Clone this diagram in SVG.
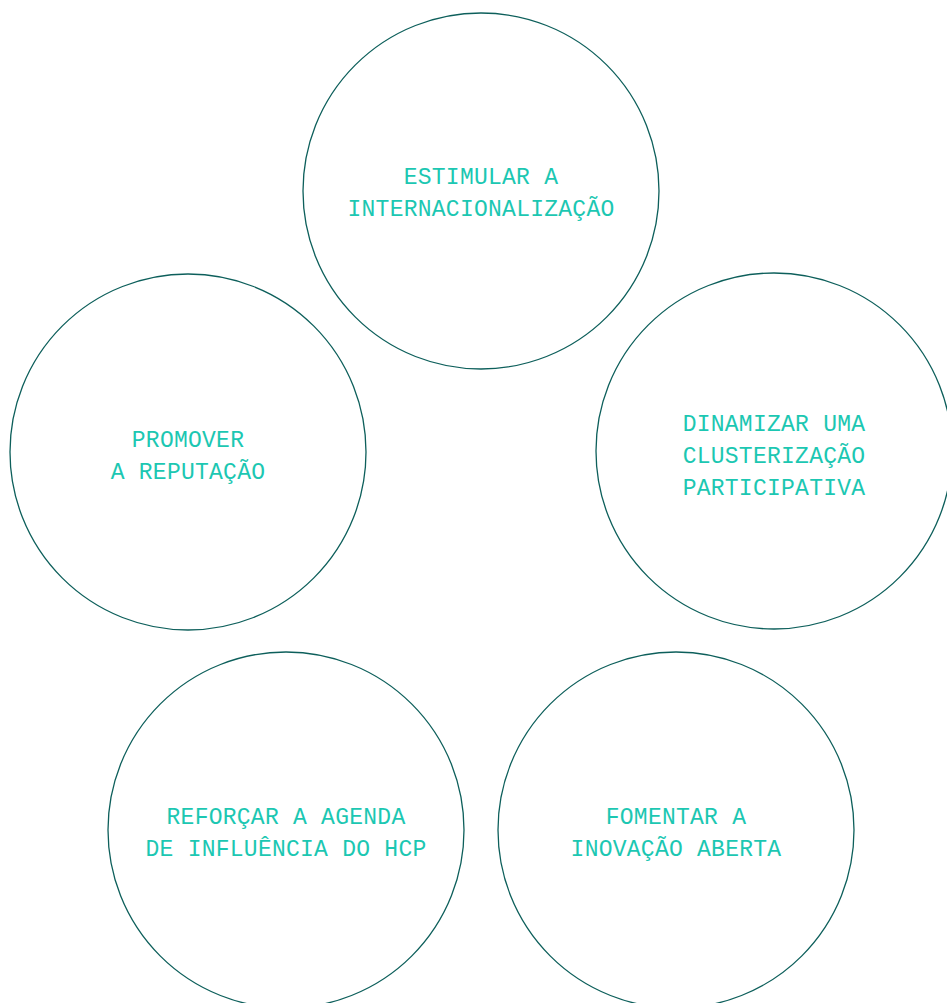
<svg xmlns="http://www.w3.org/2000/svg" width="947" height="1003" viewBox="0 0 947 1003">
  <style>
    .ring { fill: none; stroke: #0d5f5b; stroke-width: 1.3; }
    .label { font-family: "Liberation Mono", "DejaVu Sans Mono", monospace; font-size: 23px; letter-spacing: 0.25px; fill: #1cc7b2; text-anchor: middle; }
  </style>
  <rect width="947" height="1003" fill="#ffffff"/>
  <g id="internacionalizacao">
    <circle class="ring" cx="481" cy="191" r="178"/>
    <text class="label" x="481" y="184">ESTIMULAR A</text>
    <text class="label" x="481" y="216">INTERNACIONALIZAÇÃO</text>
  </g>
  <g id="reputacao">
    <circle class="ring" cx="188" cy="452" r="178"/>
    <text class="label" x="188" y="447">PROMOVER</text>
    <text class="label" x="188" y="479">A REPUTAÇÃO</text>
  </g>
  <g id="clusterizacao">
    <circle class="ring" cx="774" cy="451" r="178"/>
    <text class="label" x="774" y="431">DINAMIZAR UMA</text>
    <text class="label" x="774" y="463">CLUSTERIZAÇÃO</text>
    <text class="label" x="774" y="495">PARTICIPATIVA</text>
  </g>
  <g id="agenda-influencia">
    <circle class="ring" cx="286" cy="830" r="178"/>
    <text class="label" x="286" y="824">REFORÇAR A AGENDA</text>
    <text class="label" x="286" y="856">DE INFLUÊNCIA DO HCP</text>
  </g>
  <g id="inovacao-aberta">
    <circle class="ring" cx="676" cy="830" r="178"/>
    <text class="label" x="676" y="824">FOMENTAR A</text>
    <text class="label" x="676" y="856">INOVAÇÃO ABERTA</text>
  </g>
  <g id="connectors"></g>
</svg>
